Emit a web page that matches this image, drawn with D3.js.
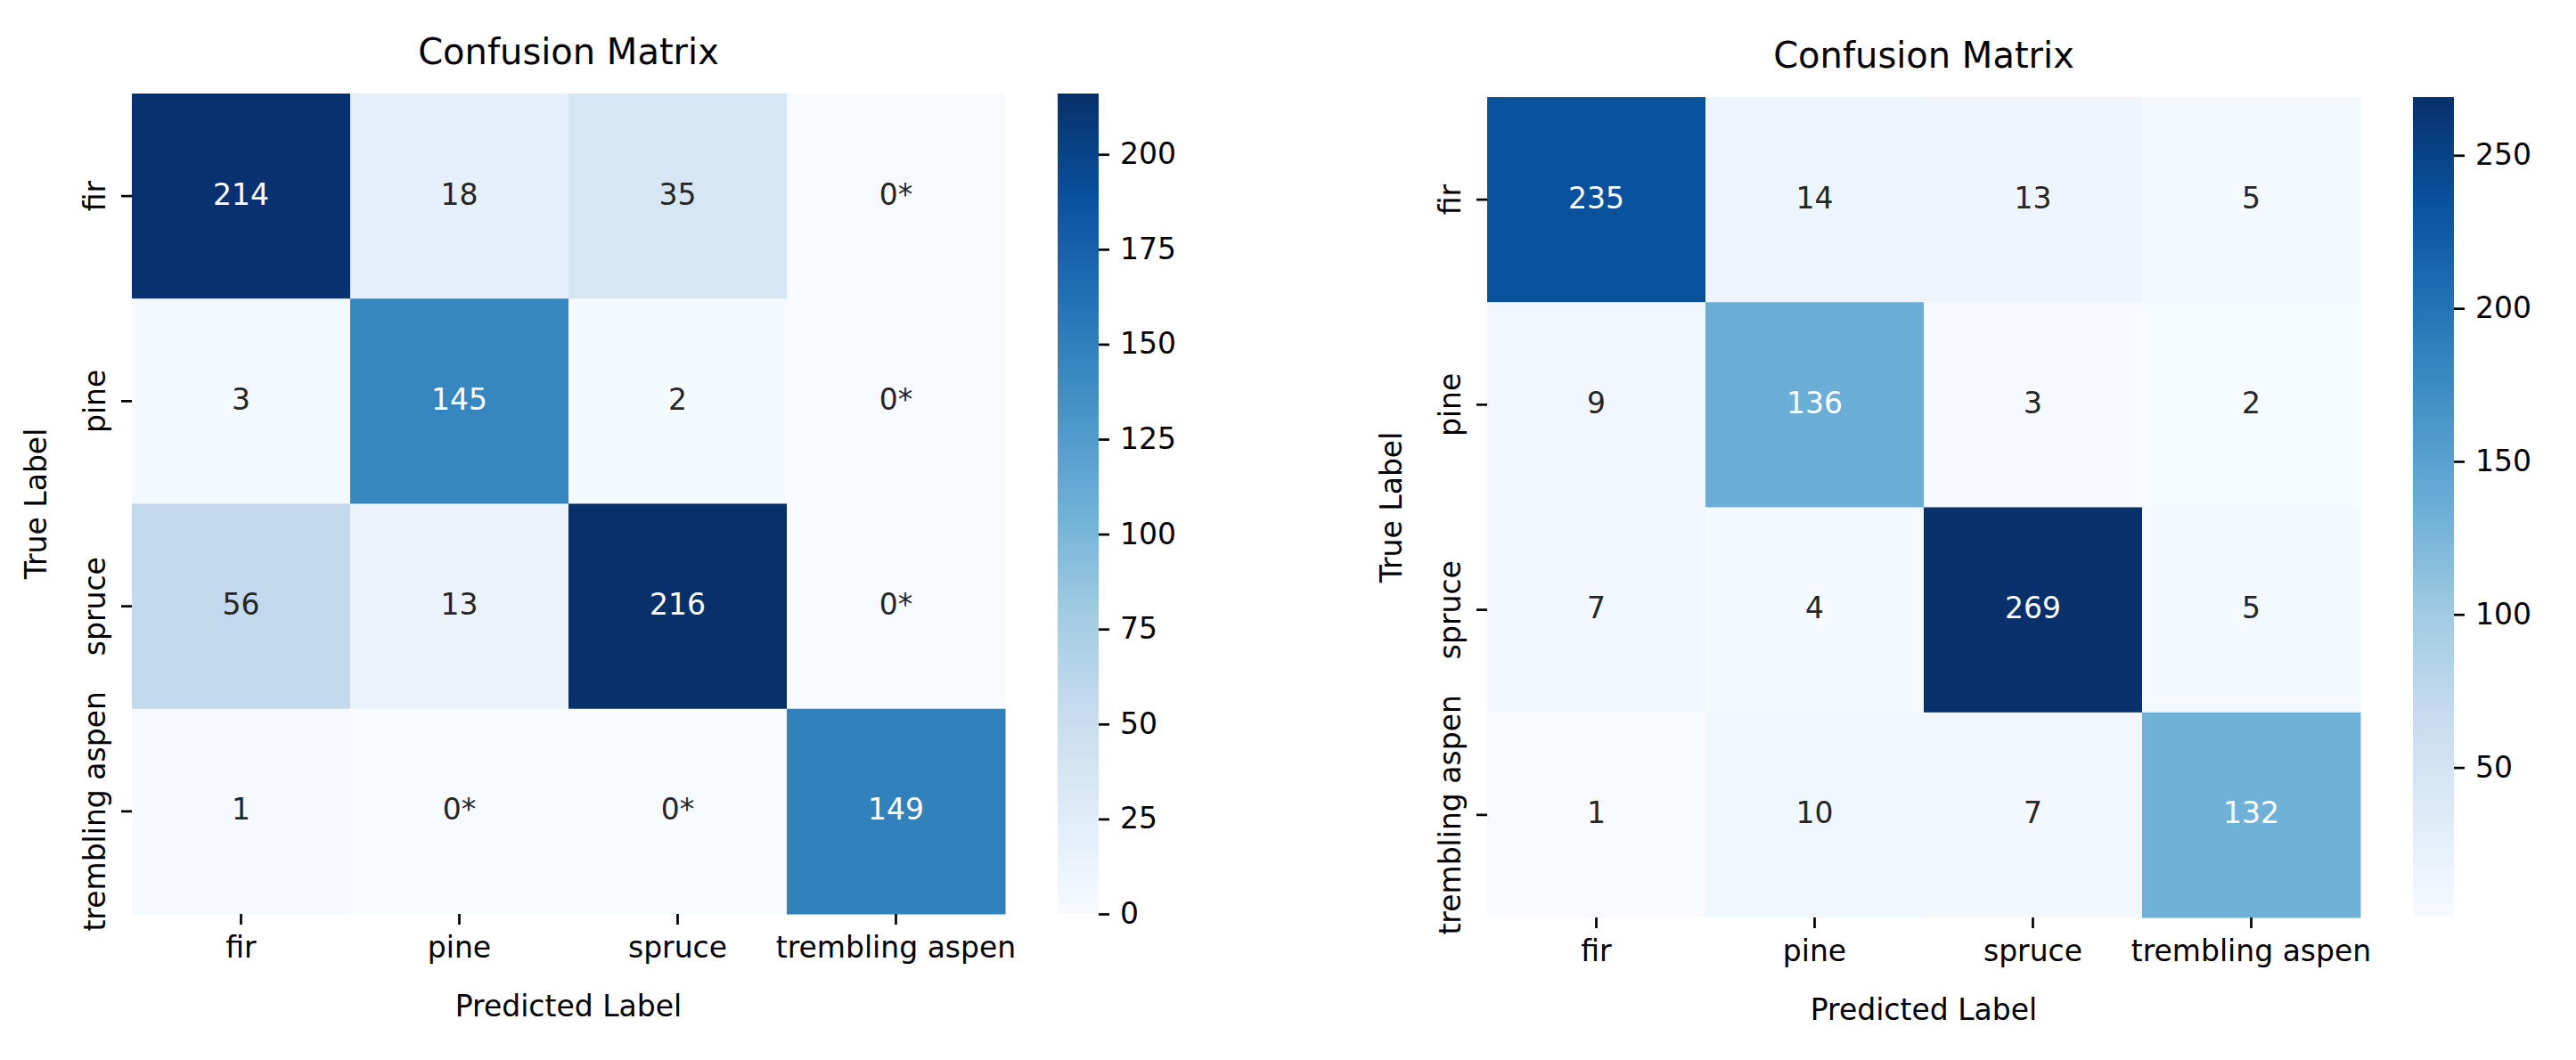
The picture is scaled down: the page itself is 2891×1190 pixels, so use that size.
<!DOCTYPE html>
<html>
<head>
<meta charset="utf-8">
<script src="https://cdn.jsdelivr.net/npm/d3@7"></script>
<style>
    body { margin: 0; background: #fff; }
    text { font-family: "DejaVu Sans", sans-serif; }
</style>
</head>
<body>
<svg id="chart"></svg>
<script>
// data
let classes = ['fir', 'pine', 'spruce', 'trembling aspen'];
let leftValues = [
    [214, 18, 35, 0],
    [3, 145, 2, 0],
    [56, 13, 216, 0],
    [1, 0, 0, 149]
];
let rightValues = [
    [235, 14, 13, 5],
    [9, 136, 3, 2],
    [7, 4, 269, 5],
    [1, 10, 7, 132]
];
let leftTicks = [0, 25, 50, 75, 100, 125, 150, 175, 200];
let rightTicks = [50, 100, 150, 200, 250];
let titleText = 'Confusion Matrix';
let xLabelText = 'Predicted Label';
let yLabelText = 'True Label';

// matplotlib "Blues"
let blues = ['#f7fbff', '#deebf7', '#c6dbef', '#9ecae1', '#6baed6',
    '#4292c6', '#2171b5', '#08519c', '#08306b'];

let width = 2891;
let height = 1190;
let svg = d3.select('#chart')
    .attr('width', width)
    .attr('height', height);
let defs = svg.append('defs');

function luminance(c) {
    let rgb = d3.rgb(c);
    let lin = [rgb.r, rgb.g, rgb.b].map(v => {
        v = v / 255;
        return v <= 0.03928 ? v / 12.92 : Math.pow((v + 0.055) / 1.055, 2.4);
    });
    return 0.2126 * lin[0] + 0.7152 * lin[1] + 0.0722 * lin[2];
}

function drawPanel(values, ticks, config, id, starZero) {
    let flat = values.flat();
    let vmin = d3.min(flat);
    let vmax = d3.max(flat);
    let color = d3.scaleLinear()
        .domain(blues.map((b, i) => vmin + i * (vmax - vmin) / (blues.length - 1)))
        .range(blues)
        .interpolate(d3.interpolateRgb);

    let x = d3.scaleBand().domain(classes).range([config.left, config.left + config.bodyWidth]);
    let y = d3.scaleBand().domain(classes).range([config.top, config.top + config.bodyHeight]);
    let bottom = config.top + config.bodyHeight;

    let g = svg.append('g').attr('id', id);

    let cells = [];
    values.forEach((row, i) => row.forEach((v, j) => cells.push({ t: classes[i], p: classes[j], v: v })));

    g.selectAll('rect.cell')
        .data(cells)
        .enter()
        .append('rect')
        .attr('class', 'cell')
        .attr('x', d => x(d.p))
        .attr('y', d => y(d.t))
        .attr('width', x.bandwidth() + 0.5)
        .attr('height', y.bandwidth() + 0.5)
        .attr('fill', d => color(d.v));

    g.selectAll('text.annot')
        .data(cells)
        .enter()
        .append('text')
        .attr('class', 'annot')
        .attr('x', d => x(d.p) + x.bandwidth() / 2)
        .attr('y', d => y(d.t) + y.bandwidth() / 2)
        .attr('dy', '0.29em')
        .attr('text-anchor', 'middle')
        .style('font-size', '33px')
        .attr('fill', d => luminance(color(d.v)) > 0.408 ? '#262626' : '#ffffff')
        .text(d => (starZero && d.v === 0) ? '0*' : d.v);

    // x axis
    let xAx = g.append('g').attr('transform', `translate(0,${bottom})`);
    xAx.selectAll('line')
        .data(classes)
        .enter()
        .append('line')
        .attr('x1', d => x(d) + x.bandwidth() / 2)
        .attr('x2', d => x(d) + x.bandwidth() / 2)
        .attr('y1', 0)
        .attr('y2', 12)
        .attr('stroke', '#000')
        .attr('stroke-width', 2.7);
    xAx.selectAll('text')
        .data(classes)
        .enter()
        .append('text')
        .attr('x', d => x(d) + x.bandwidth() / 2)
        .attr('y', 49)
        .attr('text-anchor', 'middle')
        .style('font-size', '33px')
        .text(d => d);

    // y axis
    let yAx = g.append('g').attr('transform', `translate(${config.left},0)`);
    yAx.selectAll('line')
        .data(classes)
        .enter()
        .append('line')
        .attr('x1', -12)
        .attr('x2', 0)
        .attr('y1', d => y(d) + y.bandwidth() / 2)
        .attr('y2', d => y(d) + y.bandwidth() / 2)
        .attr('stroke', '#000')
        .attr('stroke-width', 2.7);
    yAx.selectAll('text')
        .data(classes)
        .enter()
        .append('text')
        .attr('transform', d => `translate(-30,${y(d) + y.bandwidth() / 2}) rotate(-90)`)
        .attr('text-anchor', 'middle')
        .style('font-size', '33px')
        .text(d => d);

    // labels + title
    let cx = config.left + config.bodyWidth / 2;
    g.append('text')
        .attr('x', cx)
        .attr('y', config.top - 33)
        .attr('text-anchor', 'middle')
        .style('font-size', '40px')
        .text(titleText);
    g.append('text')
        .attr('x', cx)
        .attr('y', bottom + 115)
        .attr('text-anchor', 'middle')
        .style('font-size', '33px')
        .text(xLabelText);
    g.append('text')
        .attr('transform', `translate(${config.left - 96},${config.top + config.bodyHeight / 2}) rotate(-90)`)
        .attr('text-anchor', 'middle')
        .style('font-size', '33px')
        .text(yLabelText);

    // colorbar
    let grad = defs.append('linearGradient')
        .attr('id', id + '-grad')
        .attr('x1', 0).attr('y1', 1)
        .attr('x2', 0).attr('y2', 0);
    grad.selectAll('stop')
        .data(blues)
        .enter()
        .append('stop')
        .attr('offset', (d, i) => i / (blues.length - 1))
        .attr('stop-color', d => d);

    let cbScale = d3.scaleLinear()
        .domain([vmin, vmax])
        .range([config.cbBottom, config.top]);
    g.append('rect')
        .attr('x', config.cbLeft)
        .attr('y', config.top)
        .attr('width', config.cbWidth)
        .attr('height', config.cbBottom - config.top)
        .attr('fill', `url(#${id}-grad)`);

    let cbAx = g.append('g')
        .attr('transform', `translate(${config.cbLeft + config.cbWidth},0)`)
        .call(d3.axisRight(cbScale)
            .tickValues(ticks)
            .tickSize(12)
            .tickPadding(12)
            .tickFormat(d3.format('d')));
    cbAx.select('.domain').remove();
    cbAx.selectAll('line').attr('stroke-width', 2.7);
    cbAx.selectAll('text')
        .attr('font-family', '"DejaVu Sans", sans-serif')
        .style('font-size', '33px')
        .attr('fill', '#000');
}

let leftConfig = {
    left: 148,
    top: 105,
    bodyWidth: 980,
    bodyHeight: 921,
    cbLeft: 1187,
    cbWidth: 46,
    cbBottom: 1026
};
let rightConfig = {
    left: 1669,
    top: 109,
    bodyWidth: 980,
    bodyHeight: 921,
    cbLeft: 2708,
    cbWidth: 46,
    cbBottom: 1030
};

drawPanel(leftValues, leftTicks, leftConfig, 'left', true);
drawPanel(rightValues, rightTicks, rightConfig, 'right', false);
</script>
</body>
</html>
